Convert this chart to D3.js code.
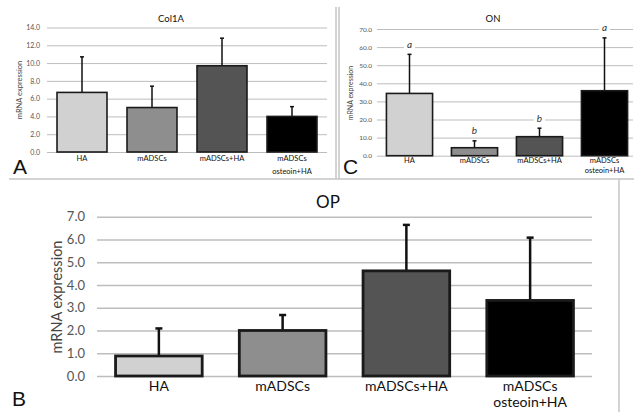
<!DOCTYPE html>
<html>
<head>
<meta charset="utf-8">
<script src="https://cdn.jsdelivr.net/npm/d3@7"></script>
<style>
  body { margin: 0; background: #fff; }
  svg { display: block; }
</style>
</head>
<body>
<svg id="chart" width="636" height="412"></svg>
<script>
// categories, label lines per category
const categories = ["HA", "mADSCs", "mADSCs+HA", "mADSCs osteoin+HA"];
const categoryLines = [["HA"], ["mADSCs"], ["mADSCs+HA"], ["mADSCs", "osteoin+HA"]];
const barColors = ["#d1d1d1", "#8e8e8e", "#545454", "#000000"];

// Col1A (panel A)
const col1aMean = [6.7, 5.0, 9.7, 4.0];
const col1aSd = [4.0, 2.4, 3.1, 1.1];
const col1aTicks = [0, 2, 4, 6, 8, 10, 12, 14];

// ON (panel C)
const onMean = [34.4, 4.4, 10.5, 35.9];
const onSd = [21.6, 3.8, 4.7, 29.2];
const onLetters = ["a", "b", "b", "a"];
const onTicks = [0, 10, 20, 30, 40, 50, 60, 70];

// OP (panel B)
const opMean = [0.88, 2.0, 4.62, 3.32];
const opSd = [1.21, 0.68, 2.02, 2.76];
const opTicks = [0, 1, 2, 3, 4, 5, 6, 7];

const svg = d3.select("#chart");
const font = "Lato, 'Open Sans', sans-serif";

function drawPanel(p) {
  const g = svg.append("g");

  const x = d3.scaleBand()
    .domain(categories)
    .range([p.x0, p.x1])
    .paddingInner(p.padIn)
    .paddingOuter(p.padIn / 2);

  const y = d3.scaleLinear()
    .domain([0, d3.max(p.ticks)])
    .range([p.y0, p.y1]);

  // grid + tick labels
  const axis = g.append("g")
    .attr("transform", `translate(${p.x0},0)`)
    .call(d3.axisLeft(y)
      .tickValues(p.ticks)
      .tickFormat(d3.format(".1f"))
      .tickSize(-(p.gridEnd - p.x0))
      .tickPadding(p.tickPad));
  axis.select(".domain").remove();
  axis.selectAll(".tick line")
    .attr("stroke", "#bdbdbd")
    .attr("stroke-width", p.gridW);
  axis.selectAll(".tick text")
    .attr("fill", "#555")
    .style("font-family", font)
    .style("font-size", p.tickFont + "px");

  const rows = categories.map((c, i) => ({ c, m: p.mean[i], sd: p.sd[i], i }));

  // error bars (upper only)
  const err = g.selectAll(".err").data(rows).enter().append("g");
  err.append("line")
    .attr("x1", d => x(d.c) + x.bandwidth() / 2)
    .attr("x2", d => x(d.c) + x.bandwidth() / 2)
    .attr("y1", d => y(d.m))
    .attr("y2", d => y(d.m + d.sd))
    .attr("stroke", "#111")
    .attr("stroke-width", p.errW);
  err.append("line")
    .attr("x1", d => x(d.c) + x.bandwidth() / 2 - p.cap / 2)
    .attr("x2", d => x(d.c) + x.bandwidth() / 2 + p.cap / 2)
    .attr("y1", d => y(d.m + d.sd))
    .attr("y2", d => y(d.m + d.sd))
    .attr("stroke", "#111")
    .attr("stroke-width", p.errW);

  // bars
  g.selectAll(".bar").data(rows).enter().append("rect")
    .attr("x", d => x(d.c))
    .attr("y", d => y(d.m))
    .attr("width", x.bandwidth())
    .attr("height", d => y(0) - y(d.m))
    .attr("fill", d => barColors[d.i])
    .attr("stroke", "#1a1a1a")
    .attr("stroke-width", p.barStroke);

  // significance letters
  if (p.letters) {
    rows.forEach(d => {
      const cx = x(d.c) + x.bandwidth() / 2;
      const cy = y(d.m + d.sd) - p.letterGap;
      const t = g.append("text")
        .attr("x", cx)
        .attr("y", cy)
        .attr("text-anchor", "middle")
        .attr("dominant-baseline", "middle")
        .style("font-family", font)
        .style("font-style", "italic")
        .style("font-size", "10px")
        .attr("fill", "#333")
        .text(p.letters[d.i]);
      const b = t.node().getBBox();
      g.insert("rect", () => t.node())
        .attr("x", b.x - 3).attr("y", b.y)
        .attr("width", b.width + 6).attr("height", b.height)
        .attr("fill", "#fff");
    });
  }

  // category labels
  rows.forEach(d => {
    const t = g.append("text")
      .attr("x", x(d.c) + x.bandwidth() / 2)
      .attr("y", p.catY)
      .attr("text-anchor", "middle")
      .style("font-family", font)
      .style("font-size", p.catFont + "px")
      .attr("fill", "#111");
    categoryLines[d.i].forEach((line, k) => {
      t.append("tspan")
        .attr("x", x(d.c) + x.bandwidth() / 2)
        .attr("dy", k === 0 ? 0 : p.catGap)
        .text(line);
    });
  });

  // y title
  g.append("text")
    .attr("transform", `translate(${p.ylabX},${p.ylabY}) rotate(-90)`)
    .attr("text-anchor", "middle")
    .style("font-family", font)
    .style("font-size", p.ylabFont + "px")
    .attr("fill", "#444")
    .text("mRNA expression");

  // chart title
  g.append("text")
    .attr("x", p.titleX)
    .attr("y", p.titleY)
    .attr("text-anchor", "middle")
    .style("font-family", font)
    .style("font-size", p.titleFont + "px")
    .attr("fill", "#111")
    .text(p.title);

  // panel letter
  g.append("text")
    .attr("x", p.tagX)
    .attr("y", p.tagY)
    .style("font-family", "'Liberation Sans', Arial, sans-serif")
    .style("font-size", "21px")
    .attr("fill", "#111")
    .text(p.tag);
}

drawPanel({
  title: "Col1A", tag: "A", mean: col1aMean, sd: col1aSd, ticks: col1aTicks,
  x0: 47, x1: 327, gridEnd: 327, y0: 152, y1: 27.5, padIn: 0.286,
  tickPad: 7, tickFont: 7, gridW: 1, errW: 1.5, cap: 4, barStroke: 1.6,
  catY: 161, catGap: 12.5, catFont: 7.5, ylabX: 22, ylabY: 90, ylabFont: 7.5,
  titleX: 171, titleY: 22, titleFont: 9.5, tagX: 13, tagY: 174
});

drawPanel({
  title: "ON", tag: "C", mean: onMean, sd: onSd, ticks: onTicks, letters: onLetters,
  x0: 377, x1: 637, gridEnd: 633, y0: 155.7, y1: 29, padIn: 0.29,
  tickPad: 5, tickFont: 6.5, gridW: 1, errW: 1.5, cap: 4, barStroke: 1.6, letterGap: 9,
  catY: 163, catGap: 10, catFont: 7.5, ylabX: 353, ylabY: 93, ylabFont: 7,
  titleX: 493, titleY: 22, titleFont: 9.5, tagX: 343, tagY: 174
});

drawPanel({
  title: "OP", tag: "B", mean: opMean, sd: opSd, ticks: opTicks,
  x0: 97, x1: 592, gridEnd: 592, y0: 376, y1: 216.7, padIn: 0.3,
  tickPad: 12, tickFont: 13, gridW: 1.5, errW: 2.5, cap: 7, barStroke: 2.8,
  catY: 391, catGap: 16, catFont: 14, ylabX: 62, ylabY: 297, ylabFont: 14.5,
  titleX: 328, titleY: 208, titleFont: 17, tagX: 12, tagY: 406
});

// panel dividers
const dividers = [
  [9, 179, 634, 179],
  [336, 7, 336, 179],
  [339, 7, 339, 179],
  [619, 179, 619, 412]
];
svg.selectAll(".divider").data(dividers).enter().append("line")
  .attr("x1", d => d[0]).attr("y1", d => d[1])
  .attr("x2", d => d[2]).attr("y2", d => d[3])
  .attr("stroke", "#c4c4c4")
  .attr("stroke-width", 1.5);
</script>
</body>
</html>
